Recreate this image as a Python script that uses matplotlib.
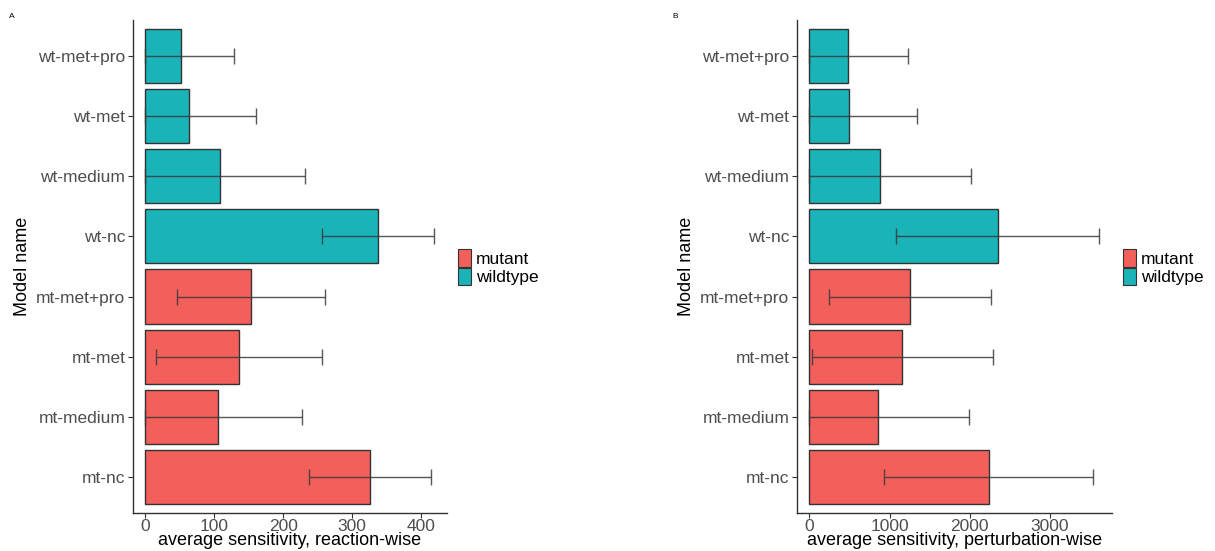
import matplotlib
matplotlib.use("Agg")
import matplotlib.pyplot as plt
from matplotlib.patches import Patch
import numpy as np

plt.rcParams['font.family'] = ['Liberation Sans', 'DejaVu Sans']

# Models, listed bottom to top
models = ["mt-nc", "mt-medium", "mt-met", "mt-met+pro",
          "wt-nc", "wt-medium", "wt-met", "wt-met+pro"]
genotype = ["mutant"] * 4 + ["wildtype"] * 4

# Panel A: reaction-wise average sensitivity (mean, sd)
react_mean = [326, 105, 136, 153, 338, 108, 63, 52]
react_sd = [89, 123, 120, 107, 81, 123, 97, 77]

# Panel B: perturbation-wise average sensitivity (mean, sd)
pert_mean = [2235, 859, 1160, 1258, 2347, 884, 496, 483]
pert_sd = [1300, 1131, 1129, 1012, 1266, 1126, 851, 743]

colors = {"mutant": "#F35F5B", "wildtype": "#19B3B8"}
text_gray = "#4D4D4D"


def draw_panel(ax, means, sds, xlabel, ticks):
    means = np.asarray(means, float)
    sds = np.asarray(sds, float)
    y = np.arange(len(models))
    ax.barh(y, means, height=0.9,
            color=[colors[g] for g in genotype],
            edgecolor="#333333", linewidth=1.0, zorder=2)
    lo = np.maximum(means - sds, 0)
    hi = means + sds
    ax.errorbar(means, y, xerr=[means - lo, hi - means], fmt="none",
                ecolor="#3a3a3a", elinewidth=1.0, capsize=5.5,
                capthick=1.0, alpha=0.85, zorder=3)
    span = hi.max()
    ax.set_xlim(-0.043 * span, span * 1.045)
    ax.set_ylim(-0.6, len(models) - 0.4)
    ax.set_yticks(y)
    ax.set_yticklabels(models)
    ax.set_xticks(ticks)
    for s in ("top", "right"):
        ax.spines[s].set_visible(False)
    for s in ("left", "bottom"):
        ax.spines[s].set_color("#333333")
        ax.spines[s].set_linewidth(1.0)
    ax.tick_params(axis="both", colors="#333333", labelcolor=text_gray,
                   labelsize=12.5, length=3.5, width=0.8, pad=2)
    ax.tick_params(axis="x", pad=0.5)
    ax.set_xlabel(xlabel, fontsize=13, color="black", labelpad=-1)
    ax.set_ylabel("Model name", fontsize=13, color="black", labelpad=4)


fig = plt.figure(figsize=(12.15, 5.51), dpi=100)
axA = fig.add_axes([0.1095, 0.069, 0.2584, 0.8947])
axB = fig.add_axes([0.656, 0.069, 0.2593, 0.8947])

draw_panel(axA, react_mean, react_sd,
           "average sensitivity, reaction-wise", [0, 100, 200, 300, 400])
draw_panel(axB, pert_mean, pert_sd,
           "average sensitivity, perturbation-wise", [0, 1000, 2000, 3000])

handles = [Patch(facecolor=colors[g], edgecolor="#333333", linewidth=0.8, label=g)
           for g in ("mutant", "wildtype")]
for xpos in (0.377, 0.924):
    fig.legend(handles=handles, loc="center left",
               bbox_to_anchor=(xpos, 0.515), frameon=False,
               fontsize=12.5, handlelength=0.75, handleheight=1.15,
               handletextpad=0.3, labelspacing=0.05, borderaxespad=0,
               borderpad=0)

fig.text(0.007, 0.97, "A", fontsize=6, va="center", ha="left")
fig.text(0.553, 0.97, "B", fontsize=6, va="center", ha="left")

fig.savefig("out.png", dpi=100)
